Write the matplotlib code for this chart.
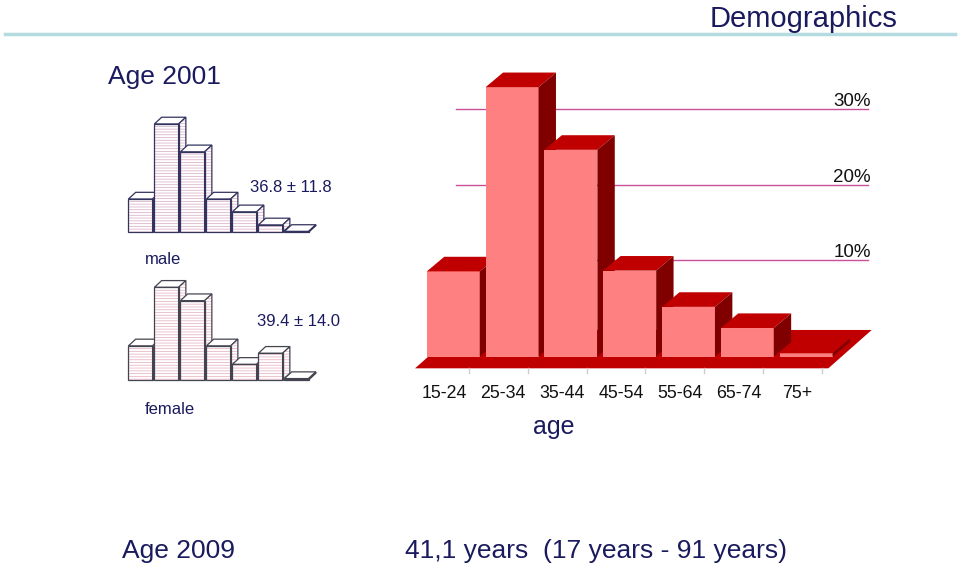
import matplotlib
matplotlib.use("Agg")
import matplotlib.pyplot as plt
from matplotlib.patches import Polygon

plt.rcParams['font.family'] = ['Liberation Sans', 'DejaVu Sans']
plt.rcParams['hatch.linewidth'] = 0.6

# data
age_groups = ['15-24', '25-34', '35-44', '45-54', '55-64', '65-74', '75+']
share_2009 = [11.3, 35.7, 27.4, 11.4, 6.6, 3.8, 0.45]
male_2001 = [11.7, 38.1, 28.3, 11.7, 7.2, 2.6, 0.3]
female_2001 = [12.0, 32.6, 27.9, 12.0, 5.5, 9.4, 0.5]
grid_levels = [10, 20, 30]
grid_labels = ['10%', '20%', '30%']

NAVY = '#1a1a5e'
W, H = 959, 569
fig = plt.figure(figsize=(W / 100, H / 100), dpi=100)


def rect(x0, y0, x1, y1):
    # pixel box (top-left origin) -> figure fraction
    return [x0 / W, 1 - y1 / H, (x1 - x0) / W, (y1 - y0) / H]


def fxy(x, y):
    return x / W, 1 - y / H


def box3d(ax, x, h, w, dx, dy, cols, z, edge='none', lw=0, hatch=None, hcol=None):
    x0, x1 = x - w / 2, x + w / 2
    faces = [
        [(x0, 0), (x1, 0), (x1, h), (x0, h)],
        [(x0, h), (x1, h), (x1 + dx, h + dy), (x0 + dx, h + dy)],
        [(x1, 0), (x1 + dx, dy), (x1 + dx, h + dy), (x1, h)],
    ]
    for k, (pts, c) in enumerate(zip(faces, cols)):
        if hatch and k != 1:
            ax.add_patch(Polygon(pts, closed=True, facecolor=c, edgecolor=hcol,
                                 lw=0, hatch=hatch, zorder=z))
            ax.add_patch(Polygon(pts, closed=True, facecolor='none', edgecolor=edge,
                                 lw=lw, zorder=z + 0.1))
        else:
            ax.add_patch(Polygon(pts, closed=True, facecolor=c, edgecolor=edge,
                                 lw=lw, zorder=z))


# ---- main 3D chart (2009) ----
ax = fig.add_axes(rect(400, 50, 900, 400))
ax.set_xlim(-0.9065, 7.597)
ax.set_ylim(-5.735, 40.62)
ax.axis('off')

for v, lab in zip(grid_levels, grid_labels):
    ax.plot([0.04, 7.05], [v + 2.8, v + 2.8], color='#c8509a', lw=1.0, zorder=1)
    ax.text(7.1, v + 3.15, lab, ha='right', va='baseline', fontsize=13.5, color='#111111')

# floor
ax.add_patch(Polygon([(-0.651, -1.54), (6.378, -1.54), (7.116, 3.54), (0.087, 3.54)],
                     closed=True, facecolor='#c00000', edgecolor='none', zorder=2))
for i in range(len(age_groups)):
    xt = i + 0.5 - 0.233
    ax.plot([xt, xt], [-1.54, -2.1], color='#cccccc', lw=1, zorder=2)

for i, v in enumerate(share_2009):
    box3d(ax, i, v, 0.9, 0.296, 1.934, ['#ff8080', '#c00000', '#800000'], 3 + i)

for i, lab in enumerate(age_groups):
    ax.text(i - 0.15, -5.43, lab, ha='center', va='baseline', fontsize=12.8, color='#111111')
ax.text(1.71, -10.2, 'age', ha='center', va='baseline', fontsize=18, color=NAVY)

# ---- small 2001 charts ----
axm = fig.add_axes(rect(120, 100, 340, 240))
axm.set_xlim(-0.788, 7.673)
axm.set_ylim(-2.707, 46.52)
axm.axis('off')
for i, v in enumerate(male_2001):
    box3d(axm, i, v, 0.93, 0.28, 2.36, ['white', 'white', 'white'], 3 + i,
          edge='#33335e', lw=0.9, hatch='------', hcol='#dcb6cc')

axf = fig.add_axes(rect(120, 270, 340, 390))
axf.set_xlim(-0.788, 7.673)
axf.set_ylim(-3.516, 38.68)
axf.axis('off')
for i, v in enumerate(female_2001):
    box3d(axf, i, v, 0.93, 0.28, 2.36, ['white', 'white', 'white'], 3 + i,
          edge='#444450', lw=0.9, hatch='------', hcol='#e8b8c6')

# ---- slide texts ----
fig.text(*fxy(898, 27), 'Demographics', ha='right', va='baseline', fontsize=21, color=NAVY)
fig.add_artist(plt.Line2D([5 / W, 955 / W], [1 - 34.3 / H] * 2, color='#b4dce0', lw=2.5))
fig.text(*fxy(108, 84), 'Age 2001', ha='left', va='baseline', fontsize=19, color=NAVY)
fig.text(*fxy(250, 191.7), '36.8 ± 11.8', ha='left', va='baseline', fontsize=12, color=NAVY)
fig.text(*fxy(145, 264), 'male', ha='left', va='baseline', fontsize=12, color=NAVY)
fig.text(*fxy(256.7, 326), '39.4 ± 14.0', ha='left', va='baseline', fontsize=12, color=NAVY)
fig.text(*fxy(145, 413.5), 'female', ha='left', va='baseline', fontsize=12, color=NAVY)
fig.text(*fxy(122, 558.3), 'Age 2009', ha='left', va='baseline', fontsize=19, color=NAVY)
fig.text(*fxy(405, 558.3), '41,1 years  (17 years - 91 years)', ha='left', va='baseline',
         fontsize=19, color=NAVY)

fig.savefig('out.png', dpi=100)
